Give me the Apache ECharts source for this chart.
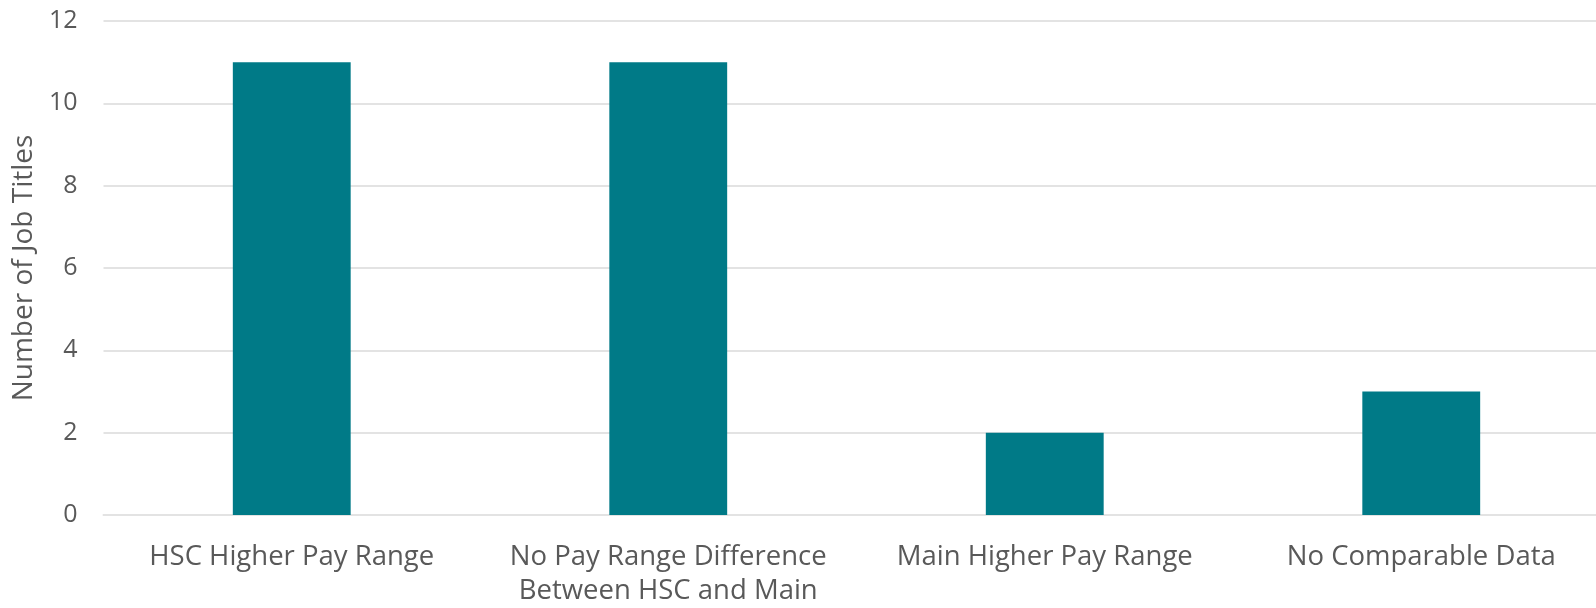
<!DOCTYPE html>
<html>
<head>
<meta charset="utf-8">
<script src="https://cdn.jsdelivr.net/npm/echarts@6/dist/echarts.min.js"></script>
<style>
  html, body { margin: 0; padding: 0; background: #ffffff; overflow: hidden; width: 1596px; height: 608px; }
  /* the plot area runs a little past the right edge of the page */
  #chart { width: 1612px; height: 608px; }
</style>
</head>
<body>
<div id="chart"></div>
<script>
// Job title counts by pay range comparison
const categories = [
  'HSC Higher Pay Range',
  'No Pay Range Difference\nBetween HSC and Main',
  'Main Higher Pay Range',
  'No Comparable Data'
];
const jobTitleCounts = [11, 11, 2, 3];
const yTicks = { min: 0, max: 12, interval: 2 };

const textColor = '#595959';
const gridColor = '#e3e3e3';
const fontFamily = '"Open Sans", sans-serif';

const chart = echarts.init(document.getElementById('chart'), null, { renderer: 'canvas' });
chart.setOption({
  animation: false,
  grid: { left: 103.5, right: 2.5, top: 21, bottom: 93 },
  xAxis: {
    type: 'category',
    data: categories,
    axisLine: { show: true, lineStyle: { color: gridColor, width: 2 } },
    axisTick: { show: false },
    axisLabel: {
      color: textColor,
      fontFamily: fontFamily,
      fontSize: 27.5,
      lineHeight: 34,
      margin: 25,
      interval: 0
    }
  },
  yAxis: {
    type: 'value',
    min: yTicks.min,
    max: yTicks.max,
    interval: yTicks.interval,
    name: 'Number of Job Titles',
    nameLocation: 'middle',
    nameGap: 63,
    nameRotate: 90,
    nameTextStyle: { color: textColor, fontFamily: fontFamily, fontSize: 28 },
    axisLine: { show: false },
    axisTick: { show: false },
    axisLabel: { color: textColor, fontFamily: fontFamily, fontSize: 25, margin: 26 },
    splitLine: { lineStyle: { color: gridColor, width: 2 } }
  },
  series: [{
    type: 'bar',
    data: jobTitleCounts,
    barWidth: '31.3%',
    itemStyle: { color: '#007A87' }
  }]
});
</script>
</body>
</html>
